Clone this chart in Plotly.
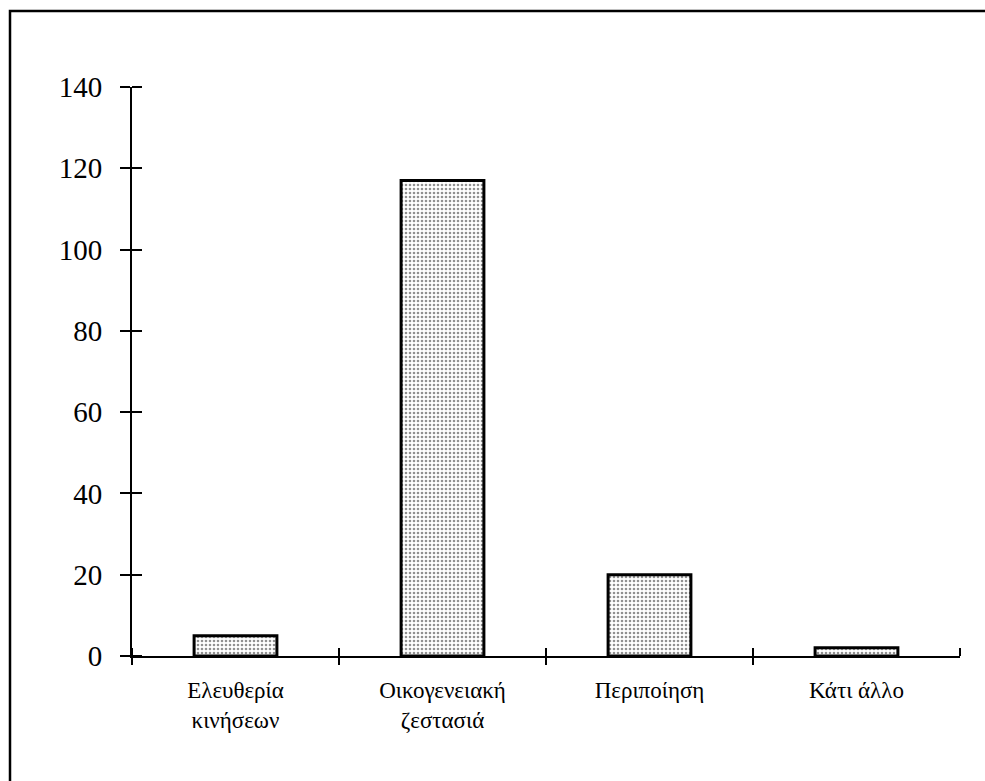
import plotly.graph_objects as go

# Responses per category
categories = ["Ελευθερία<br>κινήσεων", "Οικογενειακή<br>ζεστασιά", "Περιποίηση", "Κάτι άλλο"]
counts = [5, 117, 20, 2]
y_ticks = [0, 20, 40, 60, 80, 100, 120, 140]

W, H = 985, 781
M_L, M_R, M_T, M_B = 132, 25, 87, 125
PW, PH = W - M_L - M_R, H - M_T - M_B


def px_x(x):
    return (x - M_L) / PW


def px_y(y):
    return 1 - (y - M_T) / PH


font_family = "Liberation Serif, Times New Roman, serif"

# inward half of each crossing tick, nudged a hair so it is kept alongside the major tick.
# With tickson="boundaries" the category axis shifts these by half a category.
EPS = 1e-6
y_inner_ticks = [v + EPS for v in y_ticks]
x_inner_ticks = [i + EPS for i in range(len(categories) + 1)]

fig = go.Figure()
fig.add_trace(go.Bar(
    x=categories,
    y=counts,
    width=0.4,
    marker=dict(
        color="white",
        line=dict(color="black", width=3),
        pattern=dict(shape=".", fgcolor="#222", bgcolor="white", size=4, solidity=0.33),
    ),
    showlegend=False,
    hoverinfo="x+y",
))

fig.update_layout(
    width=W, height=H,
    margin=dict(l=M_L, r=M_R, t=M_T, b=M_B, pad=0),
    paper_bgcolor="white",
    plot_bgcolor="white",
    font=dict(family=font_family, color="black"),
    bargap=0.6,
    xaxis=dict(
        type="category",
        tickson="boundaries",
        ticks="outside", ticklen=7, tickwidth=2, tickcolor="black",
        minor=dict(ticks="inside", tickmode="array", tickvals=x_inner_ticks,
                   ticklen=8, tickwidth=2, tickcolor="black", showgrid=False),
        showline=True, linecolor="black", linewidth=2,
        showgrid=False, zeroline=False,
        tickfont=dict(size=23, family=font_family),
        ticklabelstandoff=12,
    ),
    yaxis=dict(
        range=[0, 140],
        tickvals=y_ticks,
        ticks="outside", ticklen=10, tickwidth=2, tickcolor="black",
        minor=dict(ticks="inside", tickmode="array", tickvals=y_inner_ticks,
                   ticklen=10, tickwidth=2, tickcolor="black", showgrid=False),
        showline=True, linecolor="black", linewidth=2,
        showgrid=False, zeroline=False,
        tickfont=dict(size=29, family=font_family),
        ticklabelstandoff=12,
    ),
    shapes=[
        # outer frame (top and left edges visible)
        dict(type="rect", xref="paper", yref="paper",
             x0=px_x(10), x1=px_x(W + 20), y0=px_y(H + 20), y1=px_y(11),
             line=dict(color="black", width=2.5), fillcolor="rgba(0,0,0,0)", layer="below"),
    ],
)

fig.write_html("out.html")
